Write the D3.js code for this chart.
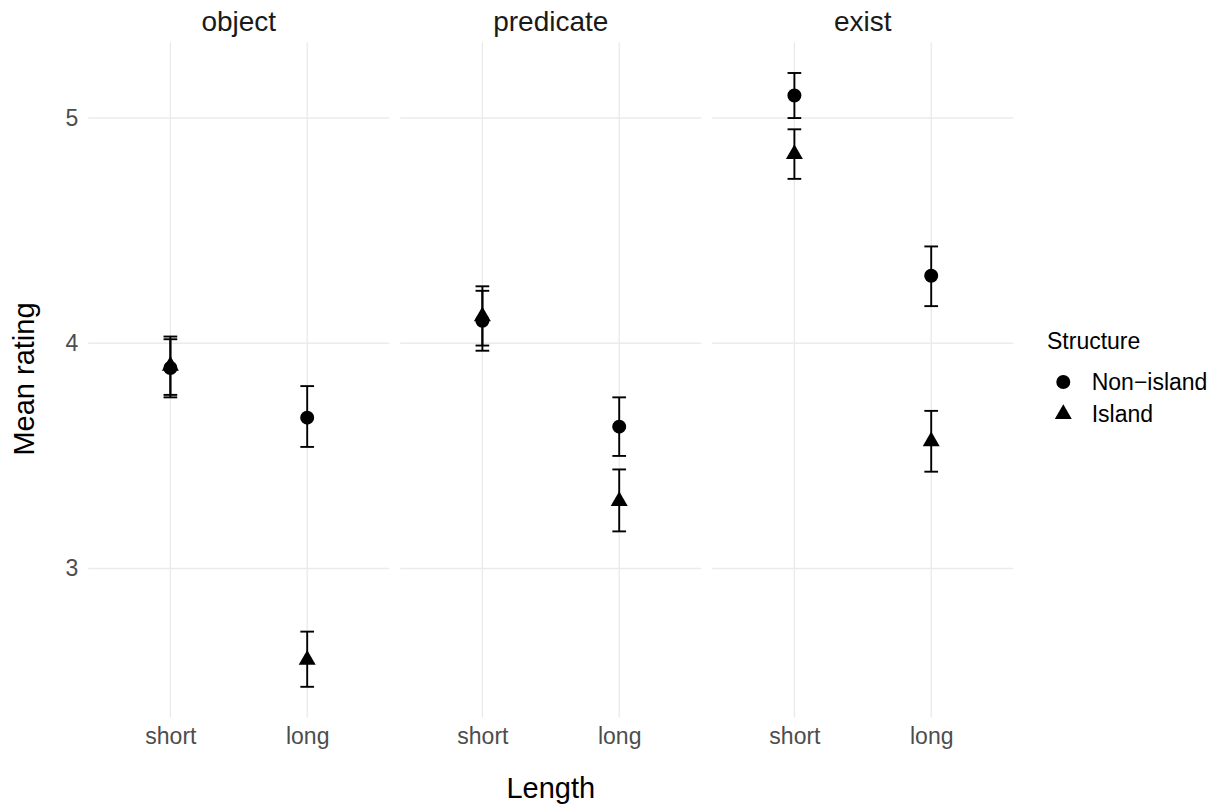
<!DOCTYPE html>
<html><head><meta charset="utf-8">
<script src="https://cdn.jsdelivr.net/npm/d3@7"></script>
<style>
body{margin:0;background:#fff}
svg{display:block}
text{font-family:"Liberation Sans",Arial,Helvetica,sans-serif}
</style>
</head><body>
<svg id="chart" width="1219" height="805"></svg>
<script>
// ---- data ----
const facets = ["object", "predicate", "exist"];
const lengths = ["short", "long"];
const structures = ["Non\u2212island", "Island"];
const yTicks = [3, 4, 5];
// order: object-short, object-long, predicate-short, predicate-long, exist-short, exist-long
const nonIslandMean  = [3.89, 3.67, 4.10, 3.63, 5.10, 4.30];
const nonIslandLower = [3.76, 3.54, 3.967, 3.50, 5.00, 4.165];
const nonIslandUpper = [4.018, 3.81, 4.233, 3.76, 5.20, 4.43];
const islandMean  = [3.90, 2.595, 4.12, 3.30, 4.84, 3.565];
const islandLower = [3.771, 2.475, 3.99, 3.165, 4.73, 3.43];
const islandUpper = [4.03, 2.72, 4.253, 3.44, 4.95, 3.70];

// build rows
const rows = [];
facets.forEach((f, fi) => lengths.forEach((l, li) => {
  const i = fi * 2 + li;
  rows.push({facet: f, length: l, structure: structures[0], mean: nonIslandMean[i], lower: nonIslandLower[i], upper: nonIslandUpper[i]});
}));
facets.forEach((f, fi) => lengths.forEach((l, li) => {
  const i = fi * 2 + li;
  rows.push({facet: f, length: l, structure: structures[1], mean: islandMean[i], lower: islandLower[i], upper: islandUpper[i]});
}));

const svg = d3.select("#chart");
const plotLeft = 88.3, plotRight = 1013.3, plotTop = 42.3, plotBottom = 717.5;
const gridColor = "#EBEBEB";
const tickColor = "#4D4D4D";

const fx = d3.scaleBand().domain(facets).range([plotLeft, plotRight]).paddingInner(0.0353).paddingOuter(0);
const lo = d3.min(rows, d => d.lower), hi = d3.max(rows, d => d.upper);
const pad = (hi - lo) * 0.05;
const y = d3.scaleLinear().domain([lo - pad, hi + pad]).range([plotBottom, plotTop]);

const shapeSym = d3.scaleOrdinal().domain(structures).range([d3.symbolCircle, d3.symbolTriangle]);
const shapeSize = d3.scaleOrdinal().domain(structures).range([154, 125]);

facets.forEach((f, fi) => {
  const bw = fx.bandwidth();
  const g = svg.append("g").attr("transform", `translate(${fx(f)},0)`);
  const x = d3.scalePoint().domain(lengths).range([0, bw]).padding(0.6);

  // horizontal grid
  g.selectAll("line.hg").data(yTicks).join("line")
    .attr("x1", 0).attr("x2", bw)
    .attr("y1", d => y(d)).attr("y2", d => y(d))
    .attr("stroke", gridColor).attr("stroke-width", 1.4);
  // vertical grid
  g.selectAll("line.vg").data(lengths).join("line")
    .attr("x1", d => x(d)).attr("x2", d => x(d))
    .attr("y1", plotTop).attr("y2", plotBottom)
    .attr("stroke", gridColor).attr("stroke-width", 1.4);

  // strip title
  g.append("text").attr("x", bw / 2).attr("y", 30.5)
    .attr("text-anchor", "middle").attr("font-size", 28).attr("fill", "#1A1A1A").text(f);

  // x axis
  const xa = g.append("g").attr("transform", `translate(0,${plotBottom})`)
    .call(d3.axisBottom(x).tickSize(0).tickPadding(10.2));
  xa.select(".domain").remove();
  xa.selectAll("text").attr("font-size", 23).attr("fill", tickColor).attr("font-family", null);

  // y axis on first panel
  if (fi === 0) {
    const ya = g.append("g").call(d3.axisLeft(y).tickValues(yTicks).tickFormat(d3.format("d")).tickSize(0).tickPadding(10));
    ya.select(".domain").remove();
    ya.selectAll("text").attr("font-size", 23).attr("fill", tickColor).attr("font-family", null);
  }

  const data = rows.filter(d => d.facet === f);
  const cap = x.step() * 0.05;
  const eb = g.selectAll("g.eb").data(data).join("g")
    .attr("stroke", "#000").attr("stroke-width", 1.9).attr("fill", "none");
  eb.append("line").attr("x1", d => x(d.length)).attr("x2", d => x(d.length))
    .attr("y1", d => y(d.lower)).attr("y2", d => y(d.upper));
  eb.append("line").attr("x1", d => x(d.length) - cap).attr("x2", d => x(d.length) + cap)
    .attr("y1", d => y(d.lower)).attr("y2", d => y(d.lower));
  eb.append("line").attr("x1", d => x(d.length) - cap).attr("x2", d => x(d.length) + cap)
    .attr("y1", d => y(d.upper)).attr("y2", d => y(d.upper));

  g.selectAll("path.pt").data(data).join("path")
    .attr("transform", d => `translate(${x(d.length)},${y(d.mean)})`)
    .attr("d", d => d3.symbol(shapeSym(d.structure), shapeSize(d.structure))())
    .attr("fill", "#000");
});

// axis titles
svg.append("text").attr("transform", "translate(34,379) rotate(-90)")
  .attr("text-anchor", "middle").attr("font-size", 29).attr("fill", "#000").text("Mean rating");
svg.append("text").attr("x", (plotLeft + plotRight) / 2).attr("y", 798)
  .attr("text-anchor", "middle").attr("font-size", 29).attr("fill", "#000").text("Length");

// legend
const lg = svg.append("g");
lg.append("text").attr("x", 1047).attr("y", 349).attr("font-size", 23).attr("fill", "#000").text("Structure");
const ly = d3.scalePoint().domain(structures).range([382, 414]);
lg.selectAll("path.lk").data(structures).join("path")
  .attr("transform", d => `translate(1063.3,${ly(d)})`)
  .attr("d", d => d3.symbol(shapeSym(d), shapeSize(d))())
  .attr("fill", "#000");
lg.selectAll("text.ll").data(structures).join("text")
  .attr("x", 1091.7).attr("y", d => ly(d) + 8)
  .attr("font-size", 23).attr("fill", "#000").text(d => d);
</script>
</body></html>
